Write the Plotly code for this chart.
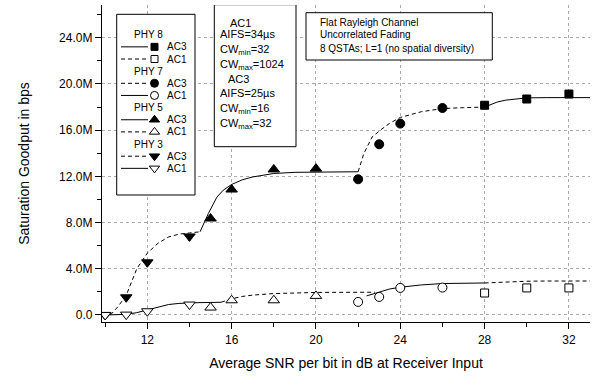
import plotly.graph_objects as go

# ---------------- data (Mbps vs SNR dB) ----------------
phy3_x = [10, 11, 12, 14]
phy3_ac3 = [0.0, 1.53, 4.56, 6.8]
phy3_ac1 = [0.0, 0.03, 0.32, 0.9]
phy5_x = [15, 16, 18, 20]
phy5_ac3 = [8.35, 10.86, 12.6, 12.67]
phy5_ac1 = [0.64, 1.27, 1.27, 1.65]
phy7_x = [22, 23, 24, 26]
phy7_ac3 = [11.75, 14.78, 16.57, 17.92]
phy7_ac1 = [1.13, 1.56, 2.34, 2.37]
phy8_x = [28, 30, 32]
phy8_ac3 = [18.16, 18.7, 19.13]
phy8_ac1 = [1.9, 2.34, 2.34]

# fitted (analytical) curves
c3_ac3_x = [10.25, 10.6, 11, 11.5, 12, 12.5, 13, 13.5, 14, 14.5]
c3_ac3_y = [0.0, 0.7, 1.7, 4.0, 5.35, 6.2, 6.75, 7.0, 7.1, 7.2]
c3_ac1_x = [10, 10.5, 11, 11.5, 12, 12.5, 13, 13.5, 14, 14.5, 15, 15.5]
c3_ac1_y = [0.0, 0.0, 0.05, 0.2, 0.45, 0.7, 0.9, 1.0, 1.05, 1.07, 1.08, 1.1]
c5_ac3_x = [14.5, 14.9, 15.3, 15.6, 16, 16.5, 17, 18, 19, 20, 21, 22]
c5_ac3_y = [7.2, 8.8, 10.2, 10.8, 11.3, 11.7, 11.95, 12.25, 12.35, 12.38, 12.4, 12.4]
c5_ac1_x = [15.5, 16, 16.5, 17, 18, 19, 20, 21, 22, 22.8]
c5_ac1_y = [1.1, 1.4, 1.6, 1.72, 1.85, 1.92, 1.95, 1.96, 1.97, 1.97]
c7_ac3_x = [22, 22.27, 22.66, 23.05, 23.5, 24, 25, 26, 27, 28]
c7_ac3_y = [12.4, 13.97, 15.4, 16.0, 16.6, 17.1, 17.6, 17.87, 17.95, 18.0]
c7_ac1_x = [22.4, 23, 23.5, 24, 25, 26, 27, 28]
c7_ac1_y = [1.65, 2.0, 2.25, 2.4, 2.6, 2.72, 2.76, 2.77]
c8_ac3_x = [28, 28.6, 29, 30, 31, 32, 33]
c8_ac3_y = [18.0, 18.44, 18.6, 18.8, 18.82, 18.82, 18.82]
c8_ac1_x = [28, 29, 30, 31, 32, 33]
c8_ac1_y = [2.77, 2.86, 2.92, 2.94, 2.94, 2.94]

y_tickvals = [0, 4, 8, 12, 16, 20, 24]
y_ticktext = ["0.0", "4.0M", "8.0M", "12.0M", "16.0M", "20.0M", "24.0M"]
x_tickvals = [12, 16, 20, 24, 28, 32]

legend_groups = ["PHY 8", "PHY 7", "PHY 5", "PHY 3"]
legend_entries = [
    [("AC3", "solid", "square", True), ("AC1", "dash", "square", False)],
    [("AC3", "dash", "circle", True), ("AC1", "solid", "circle", False)],
    [("AC3", "solid", "triangle-up", True), ("AC1", "dash", "triangle-up", False)],
    [("AC3", "dash", "triangle-down", True), ("AC1", "solid", "triangle-down", False)],
]

# ---------------- layout geometry ----------------
W, H = 595, 376
L, R, T, B = 102, 590, 5, 322
XR = [9.85, 33.0]
YR = [-0.61, 26.84]
FONT = "Arial, Liberation Sans, sans-serif"
DASH = "4px,3px"


def X(px):
    return XR[0] + (px - L) / (R - L) * (XR[1] - XR[0])


def Y(py):
    return YR[0] + (B - py) / (B - T) * (YR[1] - YR[0])


fig = go.Figure()

curves = [
    (c3_ac3_x, c3_ac3_y, DASH), (c3_ac1_x, c3_ac1_y, "solid"),
    (c5_ac3_x, c5_ac3_y, "solid"), (c5_ac1_x, c5_ac1_y, DASH),
    (c7_ac3_x, c7_ac3_y, DASH), (c7_ac1_x, c7_ac1_y, "solid"),
    (c8_ac3_x, c8_ac3_y, "solid"), (c8_ac1_x, c8_ac1_y, DASH),
]
for cx, cy, d in curves:
    fig.add_trace(go.Scatter(x=cx, y=cy, mode="lines",
                             line=dict(color="black", width=1, dash=d),
                             showlegend=False, hoverinfo="skip"))

points = [
    (phy3_x, phy3_ac3, "triangle-down", True), (phy3_x, phy3_ac1, "triangle-down", False),
    (phy5_x, phy5_ac3, "triangle-up", True), (phy5_x, phy5_ac1, "triangle-up", False),
    (phy7_x, phy7_ac3, "circle", True), (phy7_x, phy7_ac1, "circle", False),
    (phy8_x, phy8_ac3, "square", True), (phy8_x, phy8_ac1, "square", False),
]


def msize(sym):
    return {"square": 8, "circle": 9, "triangle-up": 10, "triangle-down": 10}[sym]


for px_, py_, sym, filled in points:
    fig.add_trace(go.Scatter(
        x=px_, y=py_, mode="markers",
        marker=dict(symbol=sym, size=msize(sym), color="black" if filled else "white",
                    line=dict(color="black", width=1)),
        showlegend=False, hoverinfo="skip"))

shapes = []
annotations = []

# legend box
shapes.append(dict(type="rect", xref="x", yref="y", x0=X(116.7), x1=X(195), y0=Y(14.3), y1=Y(195),
                   line=dict(color="black", width=1), fillcolor="white", layer="between"))
row = 0
y0px = 34.7
dy = 12.15
for gname, entries in zip(legend_groups, legend_entries):
    annotations.append(dict(x=X(148), y=Y(y0px + row * dy), xref="x", yref="y", text=gname,
                            showarrow=False, xanchor="center", yanchor="middle",
                            font=dict(family=FONT, size=10, color="black")))
    row += 1
    for lab, d, sym, filled in entries:
        yy = Y(y0px + row * dy)
        fig.add_trace(go.Scatter(x=[X(121), X(148)], y=[yy, yy], mode="lines",
                                 line=dict(color="black", width=1,
                                           dash=DASH if d == "dash" else "solid"),
                                 showlegend=False, hoverinfo="skip"))
        fig.add_trace(go.Scatter(x=[X(154.5)], y=[yy], mode="markers",
                                 marker=dict(symbol=sym, size=msize(sym) - 1,
                                             color="black" if filled else "white",
                                             line=dict(color="black", width=1)),
                                 showlegend=False, hoverinfo="skip"))
        annotations.append(dict(x=X(165), y=yy, xref="x", yref="y", text=lab,
                                showarrow=False, xanchor="left", yanchor="middle",
                                font=dict(family=FONT, size=10, color="black")))
        row += 1

# MAC parameter box
shapes.append(dict(type="rect", xref="x", yref="y", x0=X(214.3), x1=X(296), y0=Y(4.7), y1=Y(146.7),
                   line=dict(color="black", width=1), fillcolor="white", layer="between"))
mac_lines = [
    ("AC1", 240, 22.7, "center"),
    ("AIFS=34µs", 218, 34.3, "left"),
    ("CW<sub>min</sub>=32", 218, 49.5, "left"),
    ("CW<sub>max</sub>=1024", 218, 64.5, "left"),
    ("AC3", 238, 79, "center"),
    ("AIFS=25µs", 218, 93.3, "left"),
    ("CW<sub>min</sub>=16", 218, 109, "left"),
    ("CW<sub>max</sub>=32", 218, 123.5, "left"),
]
for txt, xp, yp, anc in mac_lines:
    annotations.append(dict(x=X(xp), y=Y(yp), xref="x", yref="y", text=txt, showarrow=False,
                            xanchor=anc, yanchor="middle",
                            font=dict(family=FONT, size=11, color="black")))

# channel box
shapes.append(dict(type="rect", xref="x", yref="y", x0=X(306), x1=X(492.3), y0=Y(12.7), y1=Y(60),
                   line=dict(color="black", width=1), fillcolor="white", layer="between"))
chan_lines = ["Flat Rayleigh Channel", "Uncorrelated Fading", "8 QSTAs; L=1 (no spatial diversity)"]
for i, txt in enumerate(chan_lines):
    annotations.append(dict(x=X(318), y=Y([22.7, 34.2, 48.7][i]), xref="x", yref="y", text=txt,
                            showarrow=False, xanchor="left", yanchor="middle",
                            font=dict(family=FONT, size=10, color="black")))

axis_common = dict(showline=True, linecolor="black", linewidth=1.3, zeroline=False)

fig.update_layout(
    width=W, height=H,
    margin=dict(l=L, r=W - R, t=T, b=H - B),
    paper_bgcolor="white", plot_bgcolor="white",
    showlegend=False,
    font=dict(family=FONT, color="black"),
    xaxis=dict(range=XR, tickmode="array", tickvals=x_tickvals,
               ticks="outside", ticklen=6, tickwidth=1, tickcolor="black",
               tickfont=dict(family=FONT, size=12, color="black"),
               minor=dict(tickvals=[10, 14, 18, 22, 26, 30], ticks="outside", ticklen=4,
                          tickcolor="black", showgrid=False),
               showgrid=True, gridcolor="#aaaaaa", griddash="dot", gridwidth=1,
               title=dict(text="Average SNR per bit in dB at Receiver Input",
                          font=dict(family=FONT, size=14, color="black"), standoff=12),
               **axis_common),
    yaxis=dict(range=YR, tickmode="array", tickvals=y_tickvals, ticktext=y_ticktext,
               ticks="outside", ticklen=6, tickwidth=1, tickcolor="black",
               tickfont=dict(family=FONT, size=12, color="black"),
               minor=dict(tickvals=[2, 6, 10, 14, 18, 22, 26], ticks="outside", ticklen=4,
                          tickcolor="black", showgrid=False),
               showgrid=True, gridcolor="#aaaaaa", griddash="dot", gridwidth=1,
               title=dict(text="Saturation Goodput in bps",
                          font=dict(family=FONT, size=14, color="black"), standoff=26),
               **axis_common),
    xaxis2=dict(overlaying="x", side="top", range=XR, tickmode="array",
                tickvals=[10, 12, 14, 16, 18, 20, 22, 24, 26, 28, 30, 32],
                ticks="inside", ticklen=6, tickcolor="black", showticklabels=False,
                showgrid=False, **axis_common),
    yaxis2=dict(overlaying="y", side="right", range=YR, tickmode="array",
                tickvals=[0, 2, 4, 6, 8, 10, 12, 14, 16, 18, 20, 22, 24, 26],
                ticks="inside", ticklen=5, tickcolor="black", showticklabels=False,
                showgrid=False, **axis_common),
    shapes=shapes,
    annotations=annotations,
)

fig.write_html("out.html")
